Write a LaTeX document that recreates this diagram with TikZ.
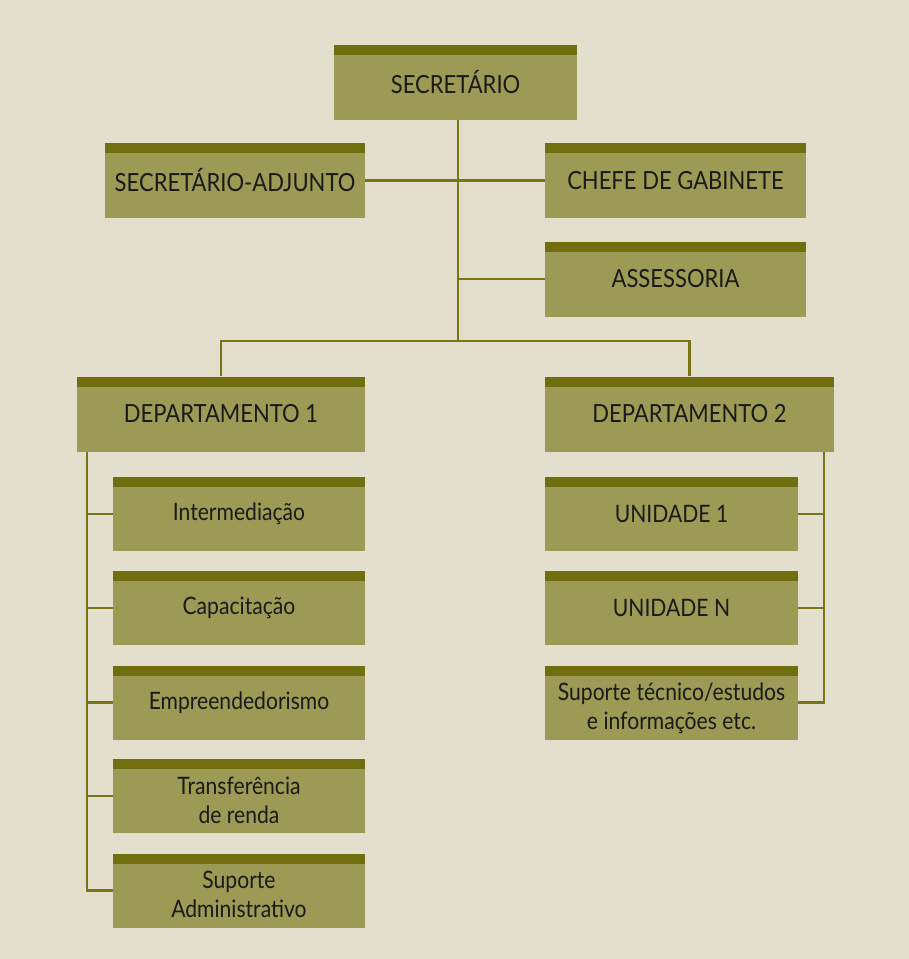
\documentclass[tikz,border=0pt]{standalone}
\usepackage{fontspec}
\setmainfont[FakeStretch=0.88]{Lato}
\definecolor{bg}{HTML}{E2E0CD}
\definecolor{boxfill}{HTML}{9C9A55}
\definecolor{band}{HTML}{716E10}
\definecolor{wire}{HTML}{7A7416}
\definecolor{ink}{HTML}{1A1A1A}
\newcommand{\twolines}[2]{\raisebox{-13pt}[0pt][0pt]{\begin{tabular}{@{}c@{}}#1\\#2\end{tabular}}}
\begin{document}
\begin{tikzpicture}[x=1pt,y=-1pt,
  obox/.style={rectangle, fill=boxfill, inner sep=0pt, text=ink, align=center,
    path picture={\fill[band] (path picture bounding box.north west) rectangle ([yshift=-10pt]path picture bounding box.north east);}},
  big/.style={obox, font=\fontsize{25}{29}\selectfont, minimum height=75pt},
  small/.style={obox, font=\fontsize{24}{29}\selectfont, minimum height=74pt, minimum width=252pt},
  wires/.style={draw=wire, line width=2.2pt}]
\fill[bg] (0,0) rectangle (909,959);
\useasboundingbox (0,0) rectangle (909,959);
% top level
\node[big, minimum width=243pt] (sec) at (455.5,82.5) {SECRETÁRIO};
\node[big, minimum width=260pt] (adj) at (235,180.5) {SECRETÁRIO-ADJUNTO};
\node[big, minimum width=261pt] (chefe) at (675.5,180.5) {CHEFE DE GABINETE};
\node[big, minimum width=261pt] (ass) at (675.5,279) {ASSESSORIA};
\node[big, minimum width=288pt] (d1) at (221,414) {DEPARTAMENTO 1};
\node[big, minimum width=289pt] (d2) at (689.5,414) {DEPARTAMENTO 2};
% department 1 units
\node[small] (b1) at (239,514) {Intermediação};
\node[small] (b2) at (239,608) {Capacitação};
\node[small] (b3) at (239,702.5) {Empreendedorismo};
\node[small] (b4) at (239,796) {\twolines{Transferência}{de renda}};
\node[small] (b5) at (239,890.5) {\twolines{Suporte}{Administrativo}};
% department 2 units
\node[small, minimum width=253pt] (r1) at (671.5,514) {UNIDADE 1};
\node[small, minimum width=253pt] (r2) at (671.5,608) {UNIDADE N};
\node[small, minimum width=253pt] (r3) at (671.5,702.5) {\twolines{Suporte técnico/estudos}{e informações etc.}};
% junctions
\coordinate (jtop) at (458,341);
\coordinate (ls) at (87,900);
\coordinate (rs) at (824,700);
% connectors
\draw[wires] (sec.south -| jtop) -- (jtop);
\draw[wires] (adj.east) -- (chefe.west);
\draw[wires] (ass.west) -- (ass.west -| jtop);
\draw[wires] (d1.north) |- (jtop) -| (d2.north);
\draw[wires] (d1.south -| ls) |- (b5.west);
\foreach \b in {b1,b2,b3,b4} \draw[wires] (\b.west) -- (\b.west -| ls);
\draw[wires] (d2.south -| rs) |- (r3.east);
\foreach \b in {r1,r2} \draw[wires] (\b.east) -- (\b.east -| rs);
\end{tikzpicture}
\end{document}
